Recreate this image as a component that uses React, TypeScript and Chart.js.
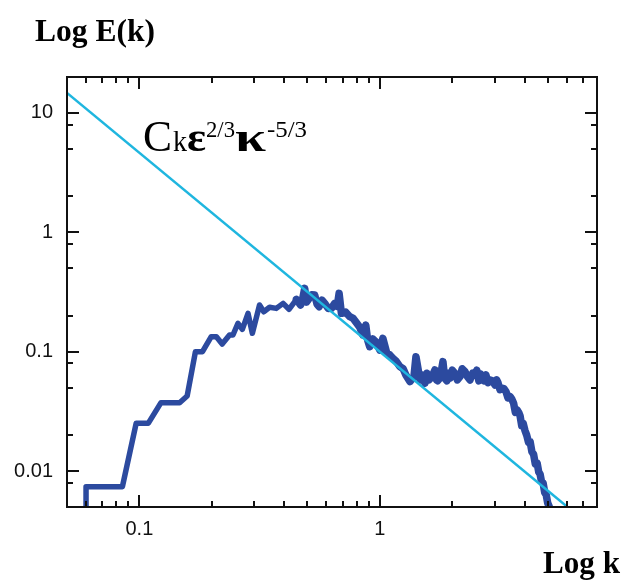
import React, { useEffect, useRef } from "react";
import { Chart, registerables } from "chart.js";

Chart.register(...registerables);

// Spectrum E(k)
const kValues = [
  0.06, 0.06, 0.085, 0.097, 0.109, 0.123, 0.147, 0.158, 0.171, 0.183,
  0.199, 0.209, 0.221, 0.237, 0.245, 0.257, 0.268, 0.283, 0.295, 0.316,
  0.329, 0.348, 0.371, 0.396, 0.419, 0.45, 0.468, 0.478, 0.487, 0.495,
  0.503, 0.52, 0.536, 0.548, 0.559, 0.575, 0.59, 0.61, 0.629, 0.649,
  0.665, 0.677, 0.692, 0.72, 0.75, 0.775, 0.802, 0.825, 0.85, 0.874,
  0.89, 0.908, 0.935, 0.962, 1.0, 1.029, 1.069, 1.1, 1.133, 1.17,
  1.212, 1.25, 1.283, 1.334, 1.386, 1.413, 1.468, 1.5, 1.54, 1.57,
  1.6, 1.647, 1.694, 1.72, 1.74, 1.778, 1.8, 1.83, 1.86, 1.9,
  1.93, 1.957, 2.0, 2.05, 2.1, 2.154, 2.2, 2.26, 2.31, 2.371,
  2.43, 2.488, 2.53, 2.58, 2.62, 2.66, 2.71, 2.76, 2.82, 2.873,
  2.94, 3.013, 3.06, 3.1, 3.16, 3.222, 3.28, 3.35, 3.41, 3.482,
  3.54, 3.6, 3.66, 3.724, 3.78, 3.83, 3.89, 3.944, 4.01, 4.08,
  4.15, 4.217, 4.29, 4.36, 4.43, 4.51, 4.58, 4.64, 4.7, 4.776,
  4.85, 4.92, 4.99, 5.06, 5.12,
];
const energyValues = [
  0.004, 0.0074, 0.0074, 0.0252, 0.0252, 0.0374, 0.0374, 0.0426, 0.1, 0.1,
  0.1335, 0.1335, 0.116, 0.138, 0.138, 0.173, 0.154, 0.2095, 0.1425, 0.246,
  0.216, 0.2355, 0.2306, 0.254, 0.2265, 0.2745, 0.246, 0.28, 0.339, 0.26,
  0.271, 0.3, 0.298, 0.25, 0.238, 0.27, 0.254, 0.23, 0.2306, 0.254,
  0.24, 0.308, 0.2095, 0.215, 0.1963, 0.19, 0.173, 0.16, 0.138, 0.167,
  0.125, 0.11, 0.128, 0.1213, 0.1033, 0.1294, 0.097, 0.094, 0.088, 0.083,
  0.0749, 0.072, 0.0638, 0.0561, 0.0618, 0.0908, 0.058, 0.064, 0.0544, 0.066,
  0.058, 0.0618, 0.0703, 0.058, 0.057, 0.0603, 0.068, 0.0825, 0.06, 0.057,
  0.066, 0.0599, 0.07, 0.066, 0.058, 0.0618, 0.072, 0.068, 0.062, 0.058,
  0.066, 0.0638, 0.07, 0.057, 0.065, 0.0599, 0.057, 0.064, 0.055, 0.058,
  0.057, 0.0526, 0.058, 0.055, 0.048, 0.0494, 0.049, 0.046, 0.041, 0.042,
  0.04, 0.037, 0.031, 0.0325, 0.031, 0.029, 0.024, 0.0252, 0.022, 0.02,
  0.0175, 0.01767, 0.0145, 0.0138, 0.0115, 0.01164, 0.0098, 0.0094, 0.0082, 0.00792,
  0.0066, 0.0063, 0.0054, 0.00505, 0.0046,
];
// the noisy (thicker-looking) stretch of the spectrum starts at this k
const noisyFromK = 0.45;

// Kolmogorov -5/3 reference line end points
const fitK = [0.05, 6.03];
const fitE = [14.7, 0.005];

const xRange = [0.05, 8];
const yRange = [0.005, 20];
const xMajorTicks = [0.1, 1];
const xTickLabels = ["0.1", "1"];
const yMajorTicks = [0.01, 0.1, 1, 10];
const yTickLabels = ["0.01", "0.1", "1", "10"];
const xMinorTicks = [0.06, 0.07, 0.08, 0.09, 0.2, 0.3, 0.4, 0.5, 0.6, 0.7, 0.8, 0.9, 2, 3, 4, 5, 6, 7];
const yMinorTicks = [0.008, 0.02, 0.05, 0.08, 0.2, 0.5, 0.8, 2, 5, 8];

const yAxisTitle = "Log E(k)";
const xAxisTitle = "Log k";

const SERIF = '"Liberation Serif", "DejaVu Serif", serif';
const SANS = '"Liberation Sans", Arial, sans-serif';

function drawFit(ctx: any, text: string, font: string, x: number, y: number, w: number) {
  ctx.font = font;
  const m = ctx.measureText(text).width || 1;
  ctx.save();
  ctx.translate(x, y);
  ctx.scale(w / m, 1);
  ctx.fillText(text, 0, 0);
  ctx.restore();
}

const framePlugin = {
  id: "frameTicks",
  afterDatasetsDraw(chart: any) {
    const { ctx, chartArea: a, scales } = chart;
    const xs = scales.x;
    const ys = scales.y;
    ctx.save();
    ctx.strokeStyle = "#111";
    ctx.lineWidth = 2;
    ctx.lineCap = "butt";
    ctx.beginPath();
    const drawX = (v: number, len: number) => {
      const p = Math.round(xs.getPixelForValue(v));
      ctx.moveTo(p, a.bottom);
      ctx.lineTo(p, a.bottom - len);
      ctx.moveTo(p, a.top);
      ctx.lineTo(p, a.top + len);
    };
    const drawY = (v: number, len: number) => {
      const p = Math.round(ys.getPixelForValue(v));
      ctx.moveTo(a.left, p);
      ctx.lineTo(a.left + len, p);
      ctx.moveTo(a.right, p);
      ctx.lineTo(a.right - len, p);
    };
    xMajorTicks.forEach((v) => drawX(v, 12));
    xMinorTicks.forEach((v) => drawX(v, 6));
    yMajorTicks.forEach((v) => drawY(v, 12));
    yMinorTicks.forEach((v) => drawY(v, 6));
    ctx.stroke();
    ctx.strokeRect(a.left, a.top, a.right - a.left, a.bottom - a.top);
    ctx.restore();
  },
  afterDraw(chart: any) {
    const { ctx, chartArea: a } = chart;
    ctx.save();
    ctx.fillStyle = "#000";
    ctx.textBaseline = "alphabetic";
    ctx.textAlign = "left";
    drawFit(ctx, yAxisTitle, `bold 32px ${SERIF}`, a.left - 32, a.top - 36, 120);
    drawFit(ctx, xAxisTitle, `bold 32px ${SERIF}`, a.right - 54, a.bottom + 66, 77);

    const bx = a.left + 76;
    const by = a.top + 74;
    drawFit(ctx, "C", `44px ${SERIF}`, bx, by, 29);
    drawFit(ctx, "k", `29px ${SERIF}`, bx + 30, by, 14);
    drawFit(ctx, "ε", `bold 42px ${SERIF}`, bx + 44, by, 19);
    drawFit(ctx, "2/3", `23px ${SERIF}`, bx + 63, by - 14, 29);
    drawFit(ctx, "κ", `bold 42px ${SERIF}`, bx + 92, by, 31);
    drawFit(ctx, "-5/3", `23px ${SERIF}`, bx + 124, by - 14, 40);
    ctx.restore();
  },
};

export default function App() {
  const canvasRef = useRef<HTMLCanvasElement | null>(null);

  useEffect(() => {
    if (!canvasRef.current) return;
    const spectrum = kValues.map((k, i) => ({ x: k, y: energyValues[i] }));
    const smoothPart = spectrum.filter((p) => p.x <= noisyFromK);
    const noisyPart = spectrum.filter((p) => p.x >= noisyFromK);
    const fit = fitK.map((k, i) => ({ x: k, y: fitE[i] }));
    const blue = "#2c4a9f";
    const chart = new Chart(canvasRef.current, {
      type: "line",
      data: {
        datasets: [
          {
            label: "fit",
            data: fit,
            borderColor: "#1fb6df",
            borderWidth: 2.5,
            pointRadius: 0,
            fill: false,
          },
          {
            label: "E(k)",
            data: noisyPart,
            borderColor: blue,
            borderWidth: 7.5,
            borderJoinStyle: "round",
            borderCapStyle: "round",
            pointRadius: 0,
            fill: false,
          },
          {
            label: "E(k) low",
            data: smoothPart,
            borderColor: blue,
            borderWidth: 5.5,
            borderJoinStyle: "round",
            pointRadius: 0,
            fill: false,
          },
        ],
      },
      options: {
        animation: false,
        responsive: true,
        maintainAspectRatio: false,
        layout: { padding: { top: 77, right: 37, left: 0, bottom: 0 } },
        plugins: {
          legend: { display: false },
          tooltip: { enabled: false },
          title: { display: false },
        },
        scales: {
          x: {
            type: "logarithmic",
            min: xRange[0],
            max: xRange[1],
            grid: { display: false, drawTicks: false, tickLength: 0 },
            border: { display: false },
            afterBuildTicks: (s: any) => {
              s.ticks = xMajorTicks.map((v) => ({ value: v }));
            },
            afterFit: (s: any) => {
              s.height = 73;
            },
            ticks: {
              autoSkip: false,
              maxRotation: 0,
              padding: 10,
              color: "#111",
              font: { family: SANS, size: 20 },
              callback: (v: any) => {
                const i = xMajorTicks.indexOf(Number(v));
                return i >= 0 ? xTickLabels[i] : "";
              },
            },
          },
          y: {
            type: "logarithmic",
            min: yRange[0],
            max: yRange[1],
            grid: { display: false, drawTicks: false, tickLength: 0 },
            border: { display: false },
            afterBuildTicks: (s: any) => {
              s.ticks = yMajorTicks.map((v) => ({ value: v }));
            },
            afterFit: (s: any) => {
              s.width = 67;
            },
            ticks: {
              autoSkip: false,
              padding: 14,
              color: "#111",
              font: { family: SANS, size: 20 },
              callback: (v: any) => {
                const i = yMajorTicks.indexOf(Number(v));
                return i >= 0 ? yTickLabels[i] : "";
              },
            },
          },
        },
      },
      plugins: [framePlugin],
    });
    return () => chart.destroy();
  }, []);

  return (
    <div style={{ position: "fixed", left: 0, top: 0, width: 634, height: 580, background: "#fff" }}>
      <canvas ref={canvasRef} />
    </div>
  );
}
